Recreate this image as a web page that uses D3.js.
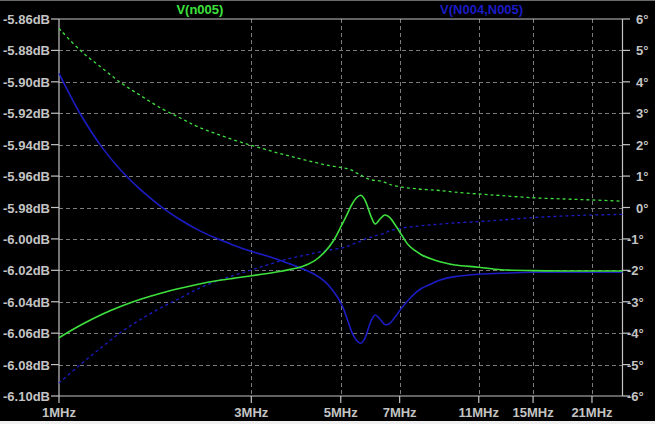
<!DOCTYPE html>
<html>
<head>
<meta charset="utf-8">
<script src="https://cdn.jsdelivr.net/npm/d3@7"></script>
<style>
  html, body { margin: 0; padding: 0; background: #000; }
  svg { display: block; }
</style>
</head>
<body>
<script>
// ---- data (frequency in MHz) ----
const freqs = [1, 1.127, 1.276, 1.431, 1.6, 1.797, 2.0, 2.2, 2.44, 2.7, 2.98, 3.25, 3.5, 3.75, 4.0, 4.3, 4.57, 4.8, 5.03, 5.18, 5.32, 5.47, 5.61, 5.72, 5.82, 5.95, 6.09, 6.25, 6.43, 6.6, 6.82, 7.08, 7.36, 7.65, 7.94, 8.4, 8.82, 9.6, 11, 12.5, 15, 18, 21, 25];

// V(n005) magnitude, dB
const magN005 = [-6.0629, -6.0551, -6.0481, -6.0427, -6.0382, -6.0344, -6.0314, -6.0290, -6.0268, -6.0251, -6.0236, -6.0222, -6.0209, -6.0194, -6.0177, -6.0140, -6.0081, -6.0010, -5.9911, -5.9845, -5.9784, -5.9738, -5.9722, -5.9745, -5.9790, -5.9860, -5.9905, -5.9875, -5.9848, -5.9862, -5.9910, -5.9975, -6.0039, -6.0075, -6.0102, -6.0128, -6.0145, -6.0166, -6.0180, -6.0196, -6.0202, -6.0204, -6.0204, -6.0204];
// V(n005) phase, degrees
const phN005 = [5.70, 5.01, 4.45, 3.95, 3.55, 3.15, 2.85, 2.58, 2.36, 2.16, 1.99, 1.85, 1.73, 1.63, 1.54, 1.44, 1.36, 1.31, 1.27, 1.24, 1.19, 1.10, 1.03, 0.97, 0.92, 0.88, 0.86, 0.85, 0.80, 0.74, 0.69, 0.65, 0.62, 0.60, 0.58, 0.56, 0.54, 0.49, 0.43, 0.38, 0.31, 0.27, 0.24, 0.20];

// V(N004,N005) magnitude, dB
const magN004N005 = [-5.8946, -5.9200, -5.9414, -5.9569, -5.9691, -5.9797, -5.9878, -5.9939, -5.9993, -6.0038, -6.0077, -6.0106, -6.0132, -6.0160, -6.0188, -6.0225, -6.0272, -6.0335, -6.0420, -6.0505, -6.0590, -6.0645, -6.0664, -6.0640, -6.0590, -6.0520, -6.0484, -6.0510, -6.0545, -6.0540, -6.0497, -6.0440, -6.0389, -6.0345, -6.0314, -6.0285, -6.0261, -6.0240, -6.0225, -6.0219, -6.0212, -6.0212, -6.0212, -6.0212];
// V(N004,N005) phase, degrees
const phN004N005 = [-5.59, -5.01, -4.45, -3.95, -3.55, -3.18, -2.88, -2.60, -2.36, -2.17, -2.00, -1.85, -1.72, -1.62, -1.54, -1.45, -1.38, -1.33, -1.29, -1.24, -1.18, -1.12, -1.07, -1.02, -0.97, -0.94, -0.90, -0.86, -0.82, -0.74, -0.70, -0.66, -0.62, -0.60, -0.58, -0.55, -0.53, -0.49, -0.45, -0.40, -0.32, -0.27, -0.24, -0.22];

// ticks
const xTicks = [1, 3, 5, 7, 11, 15, 21];
const xTickLabels = ["1MHz", "3MHz", "5MHz", "7MHz", "11MHz", "15MHz", "21MHz"];
const dbTicks = [-5.86, -5.88, -5.90, -5.92, -5.94, -5.96, -5.98, -6.00, -6.02, -6.04, -6.06, -6.08, -6.10];
const degTicks = [6, 5, 4, 3, 2, 1, 0, -1, -2, -3, -4, -5, -6];
const traceNames = ["V(n005)", "V(N004,N005)"];

// ---- layout ----
const W = 655, H = 424;
const L = 59, R = 622.5, T = 19, B = 396;
const GREEN = "#3ee03e", BLUE = "#1c1cc4";
const FG = "#c4c4c4", GRID = "#7c7c7c";
const FONT = "'Liberation Sans', Arial, sans-serif";

const svg = d3.select("body").append("svg").attr("width", W).attr("height", H);
svg.append("rect").attr("width", W).attr("height", H).attr("fill", "#000");
svg.append("rect").attr("x", 0).attr("y", 421).attr("width", W).attr("height", 3).attr("fill", "#f0f0f0");
svg.append("line").attr("x1", 0).attr("x2", W).attr("y1", 0.5).attr("y2", 0.5).attr("stroke", "#6a6a6a");

const x = d3.scaleLog().domain([1, 25]).range([L, R]);
const yL = d3.scaleLinear().domain([-6.10, -5.86]).range([B, T]);
const yR = d3.scaleLinear().domain([-6, 6]).range([B, T]);

// grid
const g = svg.append("g");
g.selectAll(".hg").data(dbTicks.slice(1, -1)).enter().append("line")
  .attr("x1", L).attr("x2", R)
  .attr("y1", d => Math.round(yL(d)) + 0.5).attr("y2", d => Math.round(yL(d)) + 0.5)
  .attr("stroke", GRID).attr("stroke-dasharray", "4,3");
g.selectAll(".vg").data(xTicks.slice(1)).enter().append("line")
  .attr("y1", T).attr("y2", B)
  .attr("x1", d => Math.round(x(d)) + 0.5).attr("x2", d => Math.round(x(d)) + 0.5)
  .attr("stroke", GRID).attr("stroke-dasharray", "4,3");

// frame
const fr = svg.append("g").attr("stroke", FG).attr("stroke-width", 1.2);
fr.append("line").attr("x1", L).attr("x2", R).attr("y1", T).attr("y2", T);
fr.append("line").attr("x1", L).attr("x2", R).attr("y1", B).attr("y2", B);
fr.append("line").attr("x1", L).attr("x2", L).attr("y1", T).attr("y2", B);
fr.append("line").attr("x1", R).attr("x2", R).attr("y1", T).attr("y2", B);

// left axis
const la = svg.append("g");
la.selectAll("line").data(dbTicks).enter().append("line")
  .attr("x1", 51).attr("x2", L).attr("y1", d => yL(d)).attr("y2", d => yL(d))
  .attr("stroke", FG).attr("stroke-width", 1.2);
la.selectAll("text").data(dbTicks).enter().append("text")
  .attr("x", 50).attr("y", d => yL(d) + 5)
  .attr("text-anchor", "end").attr("fill", FG)
  .style("font", `bold 13px ${FONT}`)
  .text(d => d.toFixed(2) + "dB");

// right axis
const ra = svg.append("g");
ra.selectAll("line").data(degTicks).enter().append("line")
  .attr("x1", R).attr("x2", 630).attr("y1", d => yR(d)).attr("y2", d => yR(d))
  .attr("stroke", FG).attr("stroke-width", 1.2);
ra.selectAll("text").data(degTicks).enter().append("text")
  .attr("x", d => d < 0 ? 627 : 636).attr("y", d => yR(d) + 5)
  .attr("text-anchor", "start").attr("fill", FG)
  .style("font", `bold 13px ${FONT}`)
  .text(d => d + "°");

// bottom axis
const ba = svg.append("g");
ba.selectAll("line").data(xTicks).enter().append("line")
  .attr("x1", d => x(d)).attr("x2", d => x(d)).attr("y1", B).attr("y2", 403)
  .attr("stroke", FG).attr("stroke-width", 1.2);
ba.selectAll("text").data(xTicks).enter().append("text")
  .attr("x", d => x(d)).attr("y", 417)
  .attr("text-anchor", "middle").attr("fill", FG)
  .style("font", `bold 13px ${FONT}`)
  .text((d, i) => xTickLabels[i]);

// legend
svg.append("text").attr("x", L + (R - L) * 0.25).attr("y", 14).attr("text-anchor", "middle")
  .attr("fill", GREEN).style("font", `bold 13px ${FONT}`).text(traceNames[0]);
svg.append("text").attr("x", L + (R - L) * 0.75).attr("y", 14).attr("text-anchor", "middle")
  .attr("fill", BLUE).style("font", `bold 13px ${FONT}`).text(traceNames[1]);

// traces
const plot = svg.append("g");
function trace(vals, yScale, color, dashed) {
  const line = d3.line()
    .x((d, i) => x(freqs[i]))
    .y(d => yScale(d))
    .curve(d3.curveCatmullRom.alpha(0.5));
  plot.append("path").datum(vals)
    .attr("d", line)
    .attr("fill", "none")
    .attr("stroke", color)
    .attr("stroke-width", dashed ? 1.3 : 1.6)
    .attr("stroke-dasharray", dashed ? "3,3" : null);
}
trace(phN005, yR, GREEN, true);
trace(phN004N005, yR, BLUE, true);
trace(magN004N005, yL, BLUE, false);
trace(magN005, yL, GREEN, false);
</script>
</body>
</html>
